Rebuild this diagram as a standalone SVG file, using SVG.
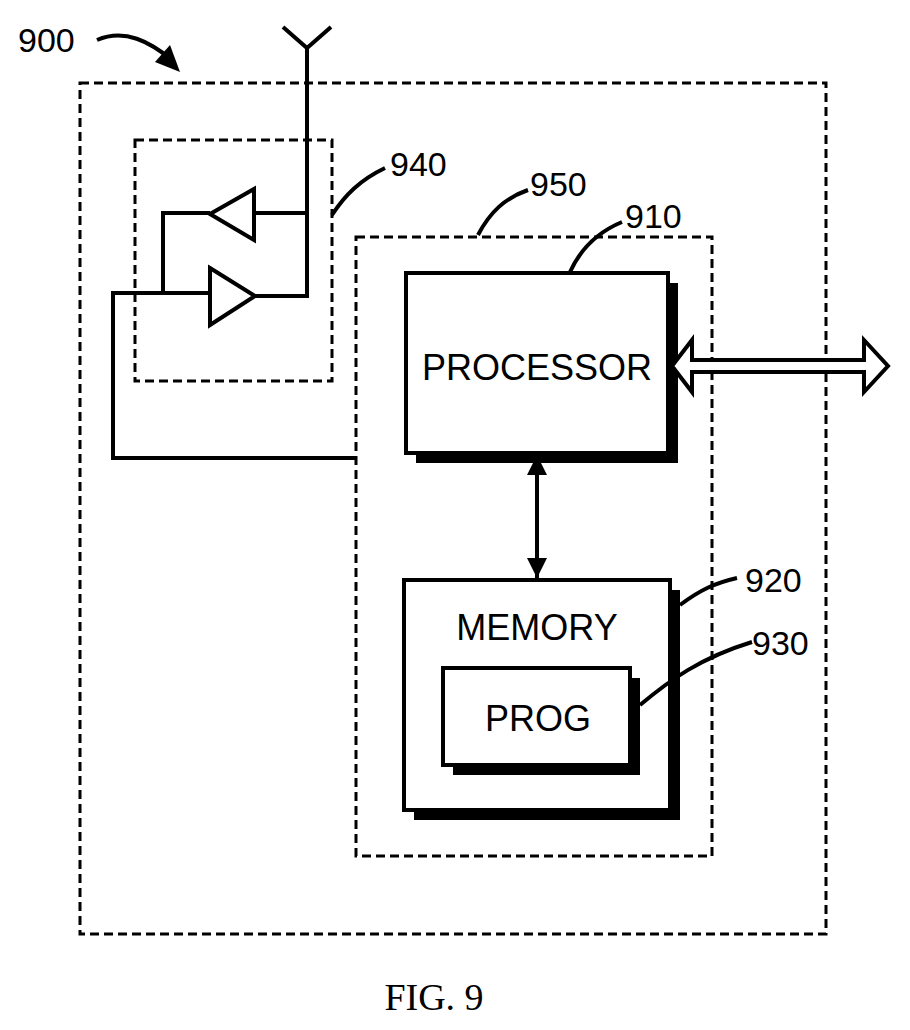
<svg xmlns="http://www.w3.org/2000/svg" width="910" height="1030" viewBox="0 0 910 1030">
<style>
.d{fill:none;stroke:#000;stroke-width:3;stroke-dasharray:9,5}
.l{fill:none;stroke:#000;stroke-width:4}
.t{font-family:"Liberation Sans",Arial,sans-serif;font-size:36px;fill:#000}
.n{font-family:"Liberation Sans",Arial,sans-serif;font-size:34px;fill:#000}
</style>
<defs>
<marker id="a" viewBox="0 0 10 10" refX="10" refY="5" markerWidth="5" markerHeight="5" orient="auto-start-reverse"><path d="M0,0 L10,5 L0,10 z"/></marker>
</defs>
<rect width="910" height="1030" fill="#fff"/>
<rect id="n900" class="d" x="80" y="83" width="746" height="851"/>
<rect id="n940" class="d" x="135" y="140" width="197" height="241"/>
<rect id="n950" class="d" x="356" y="237" width="356" height="619"/>
<g id="n910">
<rect x="416" y="283" width="262" height="180" fill="#000"/>
<rect x="406" y="273" width="262" height="180" fill="#fff" stroke="#000" stroke-width="4"/>
<text class="t" x="537" y="380" text-anchor="middle">PROCESSOR</text>
</g>
<g id="n920">
<rect x="414" y="590" width="266" height="230" fill="#000"/>
<rect x="404" y="580" width="266" height="230" fill="#fff" stroke="#000" stroke-width="4"/>
<text class="t" x="537" y="640" text-anchor="middle">MEMORY</text>
</g>
<g id="n930">
<rect x="453" y="678" width="187" height="97" fill="#000"/>
<rect x="443" y="668" width="187" height="97" fill="#fff" stroke="#000" stroke-width="4"/>
<text class="t" x="538" y="731" text-anchor="middle">PROG</text>
</g>
<g id="amps" class="l">
<polyline points="283,27 307,48 331,27"/>
<polyline points="307,48 307,296 255,296"/>
<polygon points="210,214 254,189 254,240"/>
<polygon points="210,268 255,296 210,325"/>
<line x1="254" y1="213" x2="307" y2="213"/>
<polyline points="210,213 163,213 163,293"/>
</g>
<g id="connectors">
<polyline class="l" points="210,293 113,293 113,458 356,458"/>
<line x1="537" y1="455" x2="537" y2="578" stroke="#000" stroke-width="4" marker-start="url(#a)" marker-end="url(#a)"/>
<polygon points="672,366 692,340 692,360 864,360 864,340 888,366 864,392 864,372 692,372 692,392" fill="#fff" stroke="#000" stroke-width="4" stroke-linejoin="miter"/>
<path class="l" d="M97,40 C125,28 150,42 172,60"/>
<polygon points="180,72 155,62 170,45"/>
<path class="l" d="M332,215 C345,195 360,180 385,168"/>
<path class="l" d="M478,235 C490,212 505,198 528,190"/>
<path class="l" d="M570,272 C580,250 598,232 622,222"/>
<path class="l" d="M680,605 C700,590 715,583 737,578"/>
<path class="l" d="M640,705 C670,680 700,658 752,642"/>
</g>
<text class="n" x="18" y="52">900</text>
<text class="n" x="390" y="176">940</text>
<text class="n" x="530" y="196">950</text>
<text class="n" x="625" y="228">910</text>
<text class="n" x="745" y="592">920</text>
<text class="n" x="752" y="655">930</text>
<text x="434" y="1010" text-anchor="middle" font-family="'Liberation Serif',serif" font-size="38">FIG. 9</text>
</svg>
